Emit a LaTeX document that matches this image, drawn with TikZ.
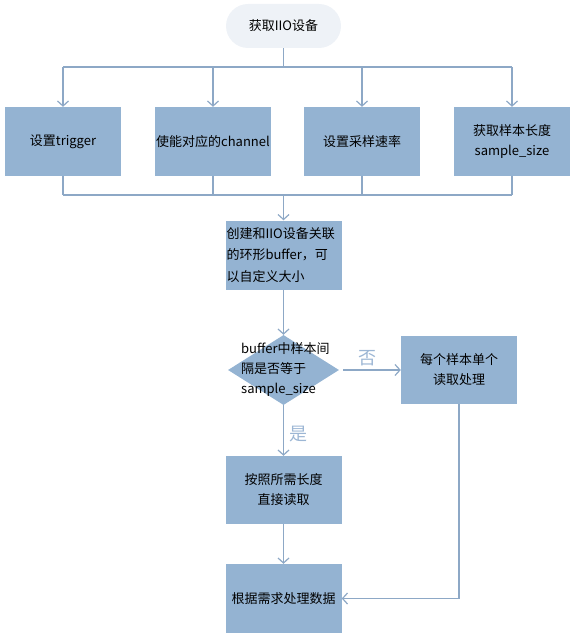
\documentclass[tikz,border=0pt]{standalone}
\usepackage{fontspec}
\setmainfont{Noto Sans CJK SC}
\usetikzlibrary{arrows.meta,shapes.geometric}
\definecolor{boxfill}{HTML}{94B3D2}
\definecolor{linec}{HTML}{8DA8C6}
\definecolor{pillfill}{HTML}{EEF2F7}
\definecolor{labc}{HTML}{9CB6D4}
\begin{document}
\begin{tikzpicture}[x=1pt,y=-1pt,
  txt/.style={font=\fontsize{13}{20}\selectfont},
  box/.style={txt, fill=boxfill, minimum width=116pt, minimum height=69pt, inner sep=1pt, align=center},
  pill/.style={txt, fill=pillfill, rounded corners=22pt, minimum width=115pt, minimum height=44pt},
  conn/.style={draw=linec, line width=1.2pt},
  arr/.style={conn, -{Straight Barb[length=5pt,width=11pt]}},
  lab/.style={text=labc, font=\fontsize{18}{20}\selectfont, inner sep=0}]
\useasboundingbox (0,0) rectangle (576,636);
\node[pill] (top) at (283.5,26) {获取IIO设备};
\node[box] (b1) at (63,141.5) {设置trigger};
\node[box] (b2) at (213,141.5) {使能对应的channel};
\node[box] (b3) at (362,141.5) {设置采样速率};
\node[box] (b4) at (512,141.5) {获取样本长度\\sample\_size};
\coordinate (busT) at (283.5,67);
\coordinate (busB) at (283.5,195);
\draw[conn] (top.south) -- (busT);
\draw[conn] (b1.north |- busT) -- (b4.north |- busT);
\foreach \n in {b1,b2,b3,b4} {
  \draw[arr] (\n.north |- busT) -- (\n.north);
  \draw[conn] (\n.south) -- (\n.south |- busB);
}
\draw[conn] (b1.south |- busB) -- (b4.south |- busB);
\node[box, text width=114pt, align=left, font=\fontsize{13}{21.5}\selectfont] (create) at (283.5,255) {创建和IIO设备关联\\的环形buffer，可\\以自定义大小};
\draw[arr] (busB) -- (create.north);
\node[diamond, fill=boxfill, minimum width=111pt, minimum height=70pt, inner sep=0] (dec) at (283.5,370) {};
\node[txt, anchor=west, align=left, inner sep=0] (dectext) at (241,370) {buffer中样本间\\隔是否等于\\sample\_size};
\draw[arr] (create.south) -- (dec.north);
\node[box, minimum height=68pt] (each) at (459,370) {每个样本单个\\读取处理};
\draw[arr] ([xshift=4pt]dec.east) -- (each.west);
\node[lab] (no) at (367,358) {否};
\node[box, minimum height=68pt] (direct) at (283.5,490) {按照所需长度\\直接读取};
\draw[arr] (dec.south) -- (direct.north);
\node[lab] (yes) at (298,434) {是};
\node[box] (final) at (283.5,598.5) {根据需求处理数据};
\draw[arr] (direct.south) -- (final.north);
\draw[arr] (each.south) -- (each.south |- final.east) -- (final.east);
\end{tikzpicture}
\end{document}
